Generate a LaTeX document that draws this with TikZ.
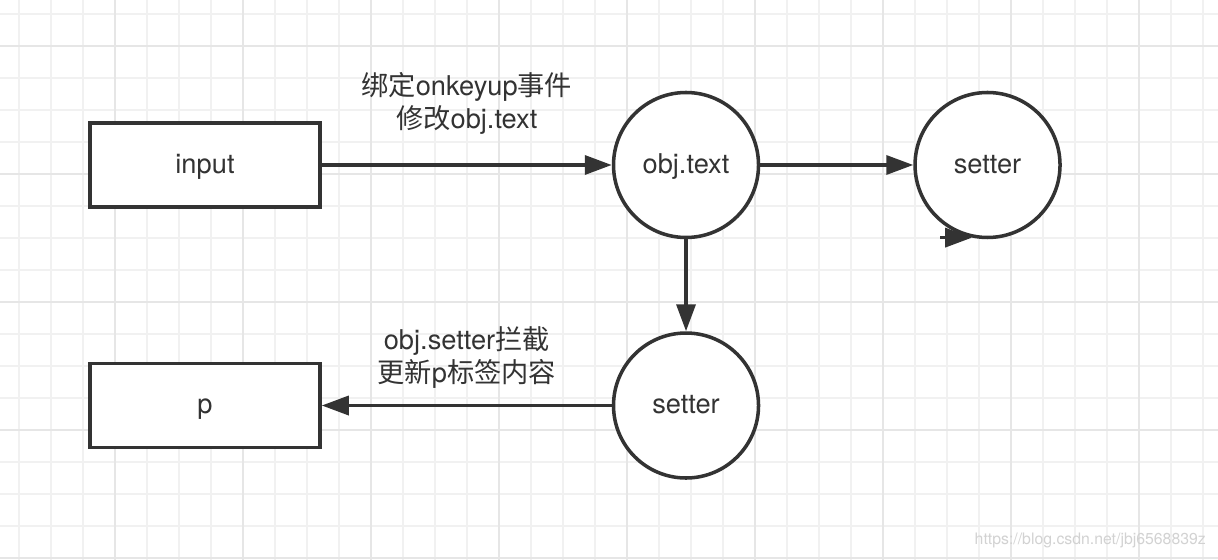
\documentclass[tikz,border=0pt]{standalone}
\usepackage{fontspec}
\setmainfont{TeX Gyre Heros}
\newfontfamily\cjk{Noto Sans CJK SC}
\usetikzlibrary{arrows.meta,positioning}
\definecolor{ink}{HTML}{333333}
\definecolor{gridminor}{HTML}{F1F1F1}
\definecolor{gridmajor}{HTML}{E6E6E6}

\begin{document}
\begin{tikzpicture}[
  font=\fontsize{15.5}{19}\selectfont,
  >={Triangle[length=0.54cm,width=0.38cm]},
  box/.style={
    rectangle, draw=ink, line width=2pt, fill=white, text=ink,
    minimum width=4.6cm, minimum height=1.68cm,
    text height=1.1em, text depth=0.15em
  },
  bubble/.style={
    circle, draw=ink, line width=2pt, fill=white, text=ink,
    minimum size=2.9cm, inner sep=0pt,
    text height=1.1em, text depth=0.15em
  },
  note/.style={align=center, text=ink},
  arr/.style={->, line width=2pt, draw=ink},
]

%% Paper with grid
\fill[white] (0,0) rectangle (24.36,11.2);
\useasboundingbox (0,0) rectangle (24.36,11.2);
\foreach \i in {0,...,37}
  \draw[gridminor, line width=0.6pt] ({0.38+0.64*\i},0) -- ({0.38+0.64*\i},11.2);
\foreach \i in {0,...,17}
  \draw[gridminor, line width=0.6pt] (0,{0.04+0.64*\i}) -- (24.36,{0.04+0.64*\i});
\foreach \i in {0,...,8}
  \draw[gridmajor, line width=0.8pt] ({2.30+2.56*\i},0) -- ({2.30+2.56*\i},11.2);
\foreach \i in {0,...,4}
  \draw[gridmajor, line width=0.8pt] (0,{0.04+2.56*\i}) -- (24.36,{0.04+2.56*\i});

%% Nodes
\node[box]                            (input)   at (4.10,7.90) {input};
\node[bubble, right=5.8cm of input]   (objtext) {obj.text};
\node[bubble, right=3.06cm of objtext] (setterR) {setter};
\node[bubble, below=1.84cm of objtext] (setterB) {setter};
\node[box, left=5.8cm of setterB]     (p)       {p};

%% Flow arrows
\draw[arr] (input) -- node[note, above=0.46cm]
  {{\cjk 绑定}onkeyup{\cjk 事件}\\{\cjk 修改}obj.text} (objtext);
\draw[arr] (objtext) -- (setterR);
\draw[arr] (objtext) -- (setterB);
\draw[arr] (setterB) -- node[note, above=0.18cm]
  {obj.setter{\cjk 拦截}\\{\cjk 更新}p{\cjk 标签内容}} (p);

%% Stray head at the bottom of setter
\coordinate (tail) at ([xshift=-0.64cm]setterR.258);
\draw[arr] (tail) -- (setterR.258);

%% Watermark
\node[anchor=east, text=gray!35, font=\fontsize{9}{11}\selectfont]
  (mark) at (24.24,0.40) {https://blog.csdn.net/jbj6568839z};

\end{tikzpicture}
\end{document}
